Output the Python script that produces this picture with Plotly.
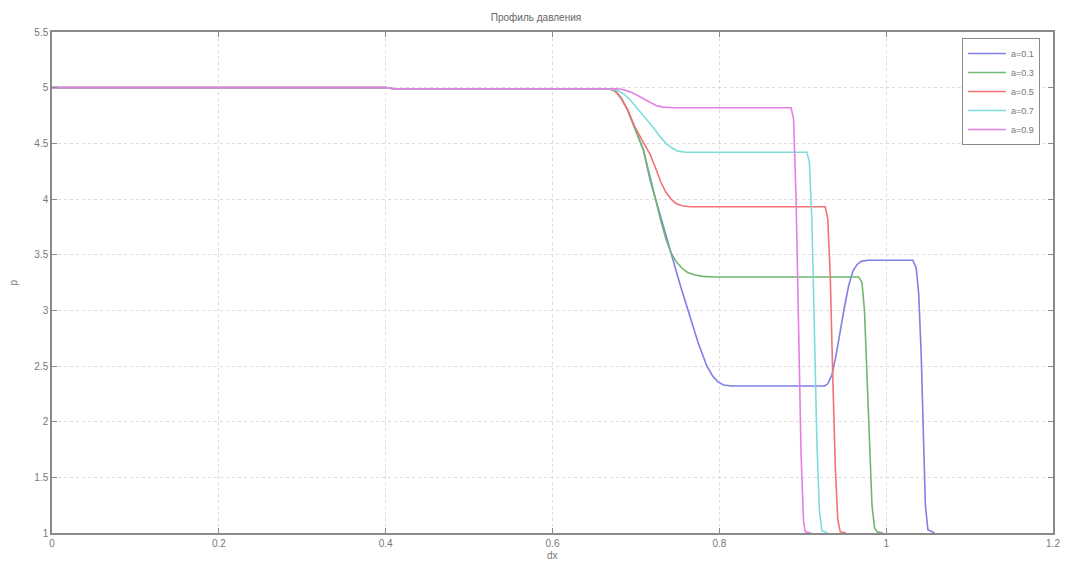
import plotly.graph_objects as go

labels = ["a=0.1", "a=0.3", "a=0.5", "a=0.7", "a=0.9"]
colors = ["#7f7fe6", "#6fb86f", "#f27373", "#7fdcdc", "#e47fe4"]

x_a01 = [0, 0.40, 0.41, 0.668, 0.675, 0.682, 0.690, 0.698, 0.709, 0.717, 0.729, 0.741, 0.753, 0.765, 0.775,
         0.785, 0.792, 0.798, 0.805, 0.815, 0.926, 0.930, 0.935, 0.940, 0.945, 0.950, 0.955, 0.960, 0.965, 0.970,
         0.978, 1.032, 1.036, 1.039, 1.042, 1.045, 1.047, 1.050, 1.058]
p_a01 = [5.0, 5.0, 4.99, 4.99, 4.97, 4.91, 4.80, 4.65, 4.44, 4.17, 3.85, 3.54, 3.23, 2.94, 2.70,
         2.50, 2.41, 2.36, 2.33, 2.32, 2.32, 2.34, 2.42, 2.60, 2.82, 3.03, 3.22, 3.35, 3.41, 3.44,
         3.45, 3.45, 3.38, 3.15, 2.6, 1.8, 1.25, 1.03, 1.0]

x_a03 = [0, 0.40, 0.41, 0.668, 0.675, 0.682, 0.690, 0.698, 0.709, 0.717, 0.724, 0.730, 0.736, 0.742, 0.748,
         0.755, 0.762, 0.770, 0.780, 0.795, 0.967, 0.971, 0.974, 0.977, 0.980, 0.983, 0.986, 0.989, 0.996]
p_a03 = [5.0, 5.0, 4.99, 4.99, 4.97, 4.91, 4.80, 4.65, 4.44, 4.20, 3.98, 3.80, 3.64, 3.52, 3.44,
         3.38, 3.34, 3.32, 3.305, 3.30, 3.30, 3.25, 3.0, 2.4, 1.75, 1.25, 1.05, 1.01, 1.0]

x_a05 = [0, 0.40, 0.41, 0.668, 0.675, 0.682, 0.690, 0.698, 0.708, 0.717, 0.724, 0.730, 0.736, 0.742, 0.748,
         0.755, 0.765, 0.78, 0.927, 0.930, 0.933, 0.936, 0.939, 0.942, 0.945, 0.952]
p_a05 = [5.0, 5.0, 4.99, 4.99, 4.97, 4.91, 4.80, 4.66, 4.52, 4.40, 4.27, 4.15, 4.06, 4.00, 3.96,
         3.94, 3.93, 3.93, 3.93, 3.82, 3.3, 2.4, 1.6, 1.12, 1.01, 1.0]

x_a07 = [0, 0.40, 0.41, 0.668, 0.676, 0.684, 0.692, 0.70, 0.708, 0.715, 0.722, 0.729, 0.736, 0.743, 0.750,
         0.760, 0.775, 0.905, 0.908, 0.911, 0.914, 0.917, 0.920, 0.923, 0.930]
p_a07 = [5.0, 5.0, 4.99, 4.99, 4.98, 4.95, 4.90, 4.83, 4.76, 4.70, 4.63, 4.56, 4.50, 4.46, 4.43,
         4.42, 4.42, 4.42, 4.33, 3.8, 2.8, 1.8, 1.2, 1.02, 1.0]

x_a09 = [0, 0.40, 0.41, 0.678, 0.686, 0.694, 0.702, 0.710, 0.717, 0.724, 0.732, 0.745,
         0.886, 0.889, 0.892, 0.895, 0.898, 0.901, 0.903, 0.910]
p_a09 = [5.0, 5.0, 4.99, 4.99, 4.98, 4.96, 4.93, 4.90, 4.87, 4.84, 4.825, 4.82,
         4.82, 4.72, 4.0, 2.8, 1.7, 1.1, 1.01, 1.0]

xs = [x_a01, x_a03, x_a05, x_a07, x_a09]
ps = [p_a01, p_a03, p_a05, p_a07, p_a09]

x_ticks = [0, 0.2, 0.4, 0.6, 0.8, 1, 1.2]
x_tick_labels = ["0", "0.2", "0.4", "0.6", "0.8", "1", "1.2"]
y_ticks = [1, 1.5, 2, 2.5, 3, 3.5, 4, 4.5, 5, 5.5]
y_tick_labels = ["1", "1.5", "2", "2.5", "3", "3.5", "4", "4.5", "5", "5.5"]

fig = go.Figure()
for x, p, name, c in zip(xs, ps, labels, colors):
    fig.add_trace(go.Scatter(x=x, y=p, mode="lines", name=name,
                             line=dict(color=c, width=1.6)))

font_fam = "Liberation Sans"
axis_common = dict(
    showline=True, linecolor="#8a8a8a", linewidth=1.5, mirror="ticks",
    ticks="inside", ticklen=5, tickcolor="#8a8a8a",
    showgrid=True, gridcolor="#dcdcdc", griddash="dot", gridwidth=1,
    zeroline=False, automargin=False,
    tickfont=dict(family=font_fam, size=10, color="#777777"),
)

W, H = 1056, 554
fig.update_layout(
    width=W, height=H,
    margin=dict(l=44, r=11, t=24, b=29),
    paper_bgcolor="white", plot_bgcolor="white",
    title=dict(text="Профиль давления", x=0.5, xanchor="center",
               y=1 - 9 / H, yanchor="middle", yref="container",
               font=dict(family=font_fam, size=10, color="#666666")),
    xaxis=dict(range=[0, 1.2], tickvals=x_ticks, ticktext=x_tick_labels, **axis_common),
    yaxis=dict(range=[1, 5.5], tickvals=y_ticks, ticktext=y_tick_labels, **axis_common),
    legend=dict(x=0.909, y=0.988, xanchor="left", yanchor="top",
                bgcolor="white", bordercolor="#8a8a8a", borderwidth=1,
                font=dict(family=font_fam, size=9, color="#777777"),
                tracegroupgap=0, itemwidth=38),
    showlegend=True,
    annotations=[
        dict(text="dx", xref="paper", yref="paper", x=0.5, y=-(555 - 533) / 501,
             xanchor="center", yanchor="middle", showarrow=False,
             font=dict(family=font_fam, size=10, color="#777777")),
        dict(text="p", xref="paper", yref="paper", x=-(52 - 13) / 1001, y=0.5,
             xanchor="center", yanchor="middle", showarrow=False, textangle=-90,
             font=dict(family=font_fam, size=10, color="#777777")),
    ],
)

fig.write_html("out.html")
